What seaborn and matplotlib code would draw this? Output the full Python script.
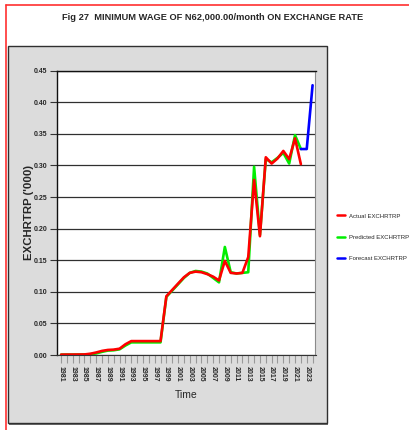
import matplotlib
matplotlib.use('Agg')
import matplotlib.pyplot as plt
from matplotlib.patches import Rectangle
from matplotlib.lines import Line2D
from matplotlib.ticker import MultipleLocator
import seaborn as sns
import pandas as pd

years = list(range(1981, 2023))
actual = [0.0006, 0.0007, 0.0007, 0.0008, 0.0009, 0.0020, 0.0040, 0.0065, 0.0080, 0.0085,
          0.0100, 0.0170, 0.0220, 0.0220, 0.0220, 0.0220, 0.0220, 0.0220, 0.0930, 0.1030,
          0.113, 0.123, 0.130, 0.132, 0.131, 0.128, 0.124, 0.118, 0.149, 0.130,
          0.129, 0.130, 0.155, 0.277, 0.188, 0.313, 0.303, 0.311, 0.323, 0.310, 0.343, 0.302]
predicted = [0.0005, 0.0006, 0.0006, 0.0007, 0.0008, 0.0012, 0.0025, 0.0050, 0.0070, 0.0075,
             0.0090, 0.0150, 0.0200, 0.0200, 0.0200, 0.0200, 0.0200, 0.0200, 0.0920, 0.1020,
             0.112, 0.122, 0.130, 0.133, 0.132, 0.129, 0.122, 0.115, 0.171, 0.131,
             0.129, 0.130, 0.131, 0.298, 0.190, 0.310, 0.305, 0.312, 0.320, 0.303, 0.348, 0.326]
forecast_years = [2022, 2023, 2024]
forecast = [0.326, 0.326, 0.427]

series_names = ['Actual EXCHRTRP', 'Predicted EXCHRTRP', 'Forecast EXCHRTRP']
series_colors = ['#ff0000', '#00ee00', '#0000ff']

sns.set_style('white')
plt.rcParams['font.family'] = ['Liberation Sans', 'DejaVu Sans']

df = pd.concat([
    pd.DataFrame({'year': years, 'value': predicted, 'series': series_names[1]}),
    pd.DataFrame({'year': years, 'value': actual, 'series': series_names[0]}),
    pd.DataFrame({'year': forecast_years, 'value': forecast, 'series': series_names[2]}),
])

fig = plt.figure(figsize=(4.1, 4.3), dpi=100)
W, H = 410, 430

# document frame lines (red) and grey chart panel
fig.add_artist(Line2D([6.5 / W, 6.5 / W], [0, 1 - 5 / H], color='#ff3030', lw=1.2))
fig.add_artist(Line2D([6.5 / W, 1], [1 - 5 / H, 1 - 5 / H], color='#ff3030', lw=1.2))
fig.patches.append(Rectangle((9 / W, 1 - 425 / H), 319 / W, 379 / H, transform=fig.transFigure,
                             facecolor='#6e6e6e', edgecolor='none', zorder=-2))
fig.patches.append(Rectangle((8 / W, 1 - 423 / H), 319 / W, 377 / H, transform=fig.transFigure,
                             facecolor='#dcdcdc', edgecolor='#303030', lw=1.0, zorder=-1))

ax = fig.add_axes([57 / W, 1 - 355 / H, 258.5 / W, 284.3 / H])
ax.set_facecolor('white')

palette = {n: c for n, c in zip(series_names, series_colors)}
sns.lineplot(data=df, x='year', y='value', hue='series', palette=palette,
             linewidth=1.9, ax=ax, legend=False, estimator=None)

ax.set_xlim(1980.3, 2024.5)
ax.set_ylim(0, 0.45)
ax.yaxis.set_major_locator(MultipleLocator(0.05))
ax.yaxis.set_major_formatter(plt.FormatStrFormatter('%.2f'))
ax.set_xticks(list(range(1981, 2024, 2)))
ax.set_xticks(list(range(1981, 2025)), minor=True)
ax.grid(True, axis='y', color='#303030', linewidth=0.9)
ax.grid(False, axis='x')
ax.set_axisbelow(True)

for s in ['left', 'top']:
    ax.spines[s].set_color('#111111')
    ax.spines[s].set_linewidth(1.0)
ax.spines['right'].set_color('#8a8a8a')
ax.spines['bottom'].set_color('#333333')

ax.tick_params(axis='y', which='major', direction='out', length=5, width=0.8,
               color='#333333', labelsize=5, pad=2, left=True)
ax.tick_params(axis='x', which='both', direction='out', length=6, width=0.8,
               color='#999999', labelsize=5, pad=2, bottom=True)
for lbl in ax.get_xticklabels():
    lbl.set_rotation(-90)
    lbl.set_fontweight('bold')
for lbl in ax.get_yticklabels():
    lbl.set_fontweight('bold')

ax.set_xlabel('Time', fontsize=7.5, labelpad=6)
ax.set_ylabel("EXCHRTRP ('000)", fontsize=8.2, fontweight='bold')
ax.yaxis.set_label_coords(-0.088, 0.5)

fig.text(213 / W, 1 - 17 / H, 'Fig 27  MINIMUM WAGE OF N62,000.00/month ON EXCHANGE RATE',
         ha='center', va='center', fontsize=6.7, fontweight='bold')

handles = [Line2D([], [], color=c, lw=1.8) for c in series_colors]
fig.legend(handles, series_names, loc='upper left', bbox_to_anchor=(332 / W, 1 - 208 / H),
           frameon=False, fontsize=4.3, handlelength=1.3, handletextpad=0.6, labelspacing=2.7)

fig.savefig('out.png', dpi=100)
